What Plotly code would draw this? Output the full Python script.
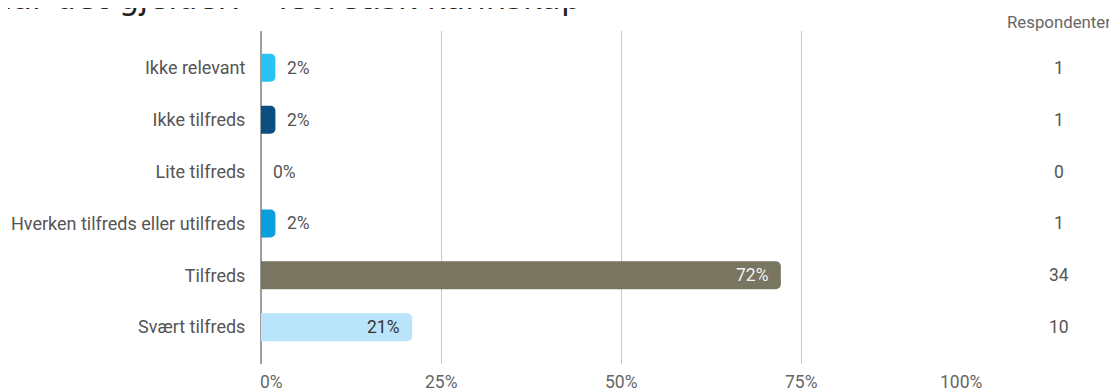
import plotly.graph_objects as go

categories = [
    "Ikke relevant",
    "Ikke tilfreds",
    "Lite tilfreds",
    "Hverken tilfreds eller utilfreds",
    "Tilfreds",
    "Svært tilfreds",
]
percent = [2.0, 2.0, 0.0, 2.0, 72.2, 21.0]
respondents = [1, 1, 0, 1, 34, 10]
bar_colors = ["#29C4F5", "#0C4E80", "#0A9BDB", "#0B9EDC", "#787560", "#BAE4F9"]
label_colors = ["#555555", "#555555", "#555555", "#555555", "#F2F2F2", "#333333"]
x_ticks = [0, 25, 50, 75, 100]
x_tick_labels = ["0%", "25%", "50%", "75%", "100%"]
title_text = "Hvor tilfreds er du med studiet når det gjelder: - Teoretisk kunnskap"

# the page body adds an 8px margin, so the figure is made 8px smaller
W, H = 1109, 381
L, T = 253, 23
PLOT_W, PLOT_H = 720, 333
R, B = W - L - PLOT_W, H - T - PLOT_H

fig = go.Figure(
    go.Bar(
        x=percent,
        y=categories,
        orientation="h",
        width=0.54,
        marker=dict(color=bar_colors, cornerradius=5, line=dict(width=0)),
        hoverinfo="skip",
    )
)

# percentage labels, inside long bars, outside short ones
for cat, val, col in zip(categories, percent, label_colors):
    inside = val > 10
    fig.add_annotation(
        x=val, y=cat, text=f"{round(val)}%", showarrow=False,
        xanchor="right" if inside else "left",
        xshift=-10 if inside else 10,
        font=dict(family="Roboto", size=17.5, color=col),
    )

# respondent counts on the right
for cat, n in zip(categories, respondents):
    fig.add_annotation(
        x=1.109, xref="paper", y=cat, text=str(n), showarrow=False,
        xanchor="center", font=dict(family="Roboto", size=17.5, color="#555555"),
    )

fig.add_annotation(
    x=1.1085, xref="paper", y=1.027, yref="paper", text="Respondenter",
    showarrow=False, xanchor="center", yanchor="middle",
    font=dict(family="Roboto", size=16.8, color="#666666"),
)

# x tick labels: end labels are kept inside the grid like the original
for i, (v, lab) in enumerate(zip(x_ticks, x_tick_labels)):
    if i == 0:
        anchor, shift = "left", -3
    elif i == len(x_ticks) - 1:
        anchor, shift = "right", 4
    else:
        anchor, shift = "center", 0
    fig.add_annotation(
        x=v, y=0, yref="paper", text=lab, showarrow=False,
        xanchor=anchor, xshift=shift, yanchor="middle", yshift=-18,
        font=dict(family="Roboto", size=17.5, color="#666666"),
    )

fig.add_annotation(
    x=322 / PLOT_W, xref="paper", y=1, yref="paper", text=title_text,
    showarrow=False, xanchor="right", yanchor="bottom", yshift=12,
    font=dict(family="DejaVu Sans", size=32.3, color="#222222"),
)

fig.update_layout(
    width=W,
    height=H,
    margin=dict(l=L, r=R, t=T, b=B),
    paper_bgcolor="white",
    plot_bgcolor="white",
    showlegend=False,
    font=dict(family="Roboto", size=17.5, color="#555555"),
)

fig.update_xaxes(
    range=[0, 100],
    tickvals=x_ticks,
    showticklabels=False,
    showgrid=True,
    gridcolor="#C8C8C8",
    gridwidth=1,
    zeroline=True,
    zerolinecolor="#9E9E9E",
    zerolinewidth=2,
    automargin=False,
    fixedrange=True,
)

fig.update_yaxes(
    range=[5.71, -0.71],
    showgrid=False,
    zeroline=False,
    ticks="outside",
    ticklen=11,
    tickcolor="white",
    tickfont=dict(family="Roboto", size=18, color="#555555"),
    automargin=False,
    fixedrange=True,
)

fig.write_html("out.html")
